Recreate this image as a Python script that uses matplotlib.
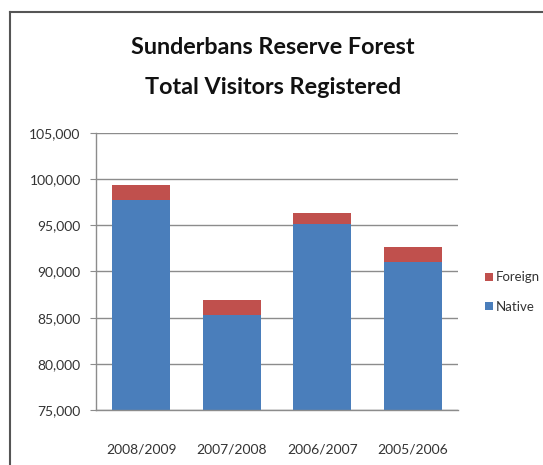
import matplotlib
matplotlib.use("Agg")
import matplotlib.pyplot as plt
import numpy as np
from matplotlib.lines import Line2D
from matplotlib.ticker import FuncFormatter

plt.rcParams['font.family'] = ['Lato', 'DejaVu Sans']

years = ["2008/2009", "2007/2008", "2006/2007", "2005/2006"]
native = [97700, 85300, 95100, 91000]
foreign = [1680, 1620, 1230, 1600]

blue = "#4a7ebb"
red = "#c0504d"

fig = plt.figure(figsize=(5.43, 4.65), dpi=100)
ax = fig.add_axes([0.1768, 0.1183, 0.6667, 0.5957])

x = np.arange(len(years))
ax.bar(x, native, width=0.64, color=blue, label="Native", zorder=2)
ax.bar(x, foreign, width=0.64, bottom=native, color=red, label="Foreign", zorder=2)

ax.set_ylim(75000, 105000)
ax.set_xlim(-0.5, 3.5)
ax.set_yticks(np.arange(75000, 105001, 5000))
ax.yaxis.set_major_formatter(FuncFormatter(lambda v, p: f"{int(v):,}"))
ax.set_xticks(x)
ax.set_xticklabels(years)
ax.grid(axis="y", color="#8c8c8c", linewidth=1.0, zorder=0)
ax.set_axisbelow(True)

for side in ("top", "right"):
    ax.spines[side].set_visible(False)
for side in ("left", "bottom"):
    ax.spines[side].set_color("#8c8c8c")
    ax.spines[side].set_linewidth(1.0)
ax.tick_params(axis="y", length=4, color="#8c8c8c", labelsize=10, labelcolor="#333333", pad=7)
ax.tick_params(axis="x", length=0, labelsize=10, labelcolor="#333333", pad=24)

handles, labels = ax.get_legend_handles_labels()
fig.legend(handles[::-1], labels[::-1], loc="center left", bbox_to_anchor=(0.893, 0.372),
           frameon=False, fontsize=9.5, handlelength=0.6, handleheight=0.6,
           handletextpad=0.25, labelspacing=1.3, labelcolor="#333333",
           borderpad=0, borderaxespad=0)

fig.text(0.502, 0.855, "Sunderbans Reserve Forest\nTotal Visitors Registered",
         ha="center", va="center", fontsize=16.8, fontweight="bold",
         color="#111111", linespacing=2.1)

# outer frame lines on top and left
fig.add_artist(Line2D([10 / 543, 1.0], [1 - 12 / 465, 1 - 12 / 465],
                      transform=fig.transFigure, color="#555555", linewidth=1.5))
fig.add_artist(Line2D([10 / 543, 10 / 543], [0.0, 1 - 12 / 465],
                      transform=fig.transFigure, color="#555555", linewidth=1.5))

fig.savefig("out.png", dpi=100)
